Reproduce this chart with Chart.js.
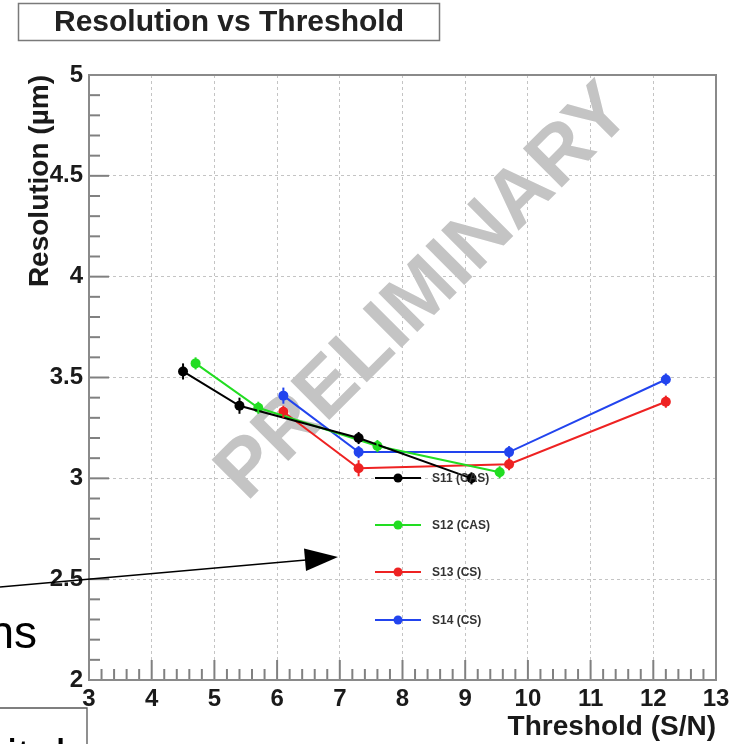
<!DOCTYPE html>
<html>
<head>
<meta charset="utf-8">
<script src="https://cdn.jsdelivr.net/npm/chart.js@4/dist/chart.umd.min.js"></script>
<style>
  html, body { margin: 0; padding: 0; background: #fff; }
</style>
</head>
<body>
<canvas id="res" width="736" height="744"></canvas>
<script>
// series
const seriesNames = ['S11 (CAS)', 'S12 (CAS)', 'S13 (CS)', 'S14 (CS)'];
const seriesColors = ['#000000', '#22dd22', '#ee2222', '#2244ee'];

const s11X = [4.5, 5.4, 7.3, 9.1];
const s11Y = [3.53, 3.36, 3.2, 3.0];
const s11Err = [0.04, 0.04, 0.03, 0.03];

const s12X = [4.7, 5.7, 7.6, 9.55];
const s12Y = [3.57, 3.35, 3.16, 3.03];
const s12Err = [0.03, 0.03, 0.03, 0.03];

const s13X = [6.1, 7.3, 9.7, 12.2];
const s13Y = [3.33, 3.05, 3.07, 3.38];
const s13Err = [0.03, 0.04, 0.03, 0.03];

const s14X = [6.1, 7.3, 9.7, 12.2];
const s14Y = [3.41, 3.13, 3.13, 3.49];
const s14Err = [0.04, 0.03, 0.03, 0.03];

const xTicks = [3, 4, 5, 6, 7, 8, 9, 10, 11, 12, 13];
const yTicks = [2, 2.5, 3, 3.5, 4, 4.5, 5];
const yTickLabels = ['2', '2.5', '3', '3.5', '4', '4.5', '5'];

const FONT = "'Liberation Sans', Arial, Helvetica, sans-serif";

function pts(xs, ys) {
  return xs.map((x, i) => ({ x: x, y: ys[i] }));
}

const allX = [s11X, s12X, s13X, s14X];
const allY = [s11Y, s12Y, s13Y, s14Y];
const allErr = [s11Err, s12Err, s13Err, s14Err];

const datasets = seriesNames.map((name, i) => ({
  label: name,
  data: pts(allX[i], allY[i]),
  errors: allErr[i],
  showLine: true,
  borderColor: seriesColors[i],
  backgroundColor: seriesColors[i],
  borderWidth: 2,
  pointRadius: 5,
  pointBorderWidth: 0,
  tension: 0
}));

// root style extras: watermark, error bars, legend, frame, inner ticks, slide bits
const rootStyle = {
  id: 'rootStyle',
  beforeDatasetsDraw(chart) {
    const ctx = chart.ctx;
    ctx.save();
    ctx.translate(425, 293);
    ctx.rotate(-45 * Math.PI / 180);
    ctx.font = 'bold 80px ' + FONT;
    ctx.fillStyle = '#c4c4c4';
    ctx.textAlign = 'center';
    ctx.textBaseline = 'middle';
    ctx.fillText('PRELIMINARY', 0, 0);
    ctx.restore();
  },
  afterDatasetsDraw(chart) {
    const ctx = chart.ctx;
    const xs = chart.scales.x, ys = chart.scales.y;
    ctx.save();
    // error bars
    chart.data.datasets.forEach(ds => {
      ctx.strokeStyle = ds.borderColor;
      ctx.lineWidth = 2;
      ds.data.forEach((p, j) => {
        const px = xs.getPixelForValue(p.x);
        ctx.beginPath();
        ctx.moveTo(px, ys.getPixelForValue(p.y - ds.errors[j]));
        ctx.lineTo(px, ys.getPixelForValue(p.y + ds.errors[j]));
        ctx.stroke();
      });
    });
    // legend
    const legendY = [478, 525, 572, 620];
    ctx.font = 'bold 12px ' + FONT;
    ctx.textBaseline = 'middle';
    ctx.textAlign = 'left';
    chart.data.datasets.forEach((ds, i) => {
      const y = legendY[i];
      ctx.strokeStyle = ds.borderColor;
      ctx.lineWidth = 2;
      ctx.beginPath();
      ctx.moveTo(375, y);
      ctx.lineTo(421, y);
      ctx.stroke();
      ctx.fillStyle = ds.borderColor;
      ctx.beginPath();
      ctx.arc(398, y, 4.5, 0, Math.PI * 2);
      ctx.fill();
      ctx.fillStyle = '#333';
      ctx.fillText(ds.label, 432, y + 1);
    });
    ctx.restore();
  },
  afterDraw(chart) {
    const ctx = chart.ctx;
    const a = chart.chartArea;
    const xs = chart.scales.x, ys = chart.scales.y;
    ctx.save();
    // inner ticks
    ctx.strokeStyle = '#808080';
    ctx.lineWidth = 2;
    for (let k = 0; k <= 50; k++) {
      const v = 3 + k * 0.2;
      const px = xs.getPixelForValue(v);
      const len = (k % 5 === 0) ? 20 : 11;
      ctx.beginPath();
      ctx.moveTo(px, a.bottom);
      ctx.lineTo(px, a.bottom - len);
      ctx.stroke();
    }
    for (let k = 0; k <= 30; k++) {
      const v = 2 + k * 0.1;
      const py = ys.getPixelForValue(v);
      const len = (k % 5 === 0) ? 20 : 11;
      ctx.beginPath();
      ctx.moveTo(a.left, py);
      ctx.lineTo(a.left + len, py);
      ctx.stroke();
    }
    // frame
    ctx.strokeStyle = '#8a8a8a';
    ctx.lineWidth = 2;
    ctx.strokeRect(a.left, a.top, a.right - a.left, a.bottom - a.top);

    // title box
    ctx.strokeStyle = '#7a7a7a';
    ctx.lineWidth = 1.5;
    ctx.strokeRect(18.5, 3.5, 421, 37);
    ctx.fillStyle = '#222';
    ctx.font = 'bold 30px ' + FONT;
    ctx.textAlign = 'center';
    ctx.textBaseline = 'middle';
    ctx.fillText('Resolution vs Threshold', 229, 23);

    // slide overlay: arrow, clipped text, box
    ctx.strokeStyle = '#000';
    ctx.fillStyle = '#000';
    ctx.lineWidth = 1.3;
    ctx.beginPath();
    ctx.moveTo(0, 587);
    ctx.lineTo(306, 560);
    ctx.stroke();
    ctx.beginPath();
    ctx.moveTo(338, 557);
    ctx.lineTo(304, 548.5);
    ctx.lineTo(306, 571);
    ctx.closePath();
    ctx.fill();

    ctx.font = '46px ' + FONT;
    ctx.textAlign = 'right';
    ctx.textBaseline = 'alphabetic';
    ctx.fillText('ns', 37, 648);

    ctx.strokeStyle = '#555';
    ctx.lineWidth = 1.3;
    ctx.beginPath();
    ctx.moveTo(0, 708);
    ctx.lineTo(87, 708);
    ctx.lineTo(87, 744);
    ctx.stroke();
    ctx.textAlign = 'left';
    ctx.fillText('ital', 7, 772);
    ctx.restore();
  }
};

new Chart(document.getElementById('res'), {
  type: 'scatter',
  data: { datasets: datasets },
  options: {
    responsive: false,
    animation: false,
    layout: { padding: { top: 75, right: 20, left: 0, bottom: 0 } },
    plugins: { legend: { display: false }, tooltip: { enabled: false } },
    scales: {
      x: {
        type: 'linear',
        min: xTicks[0],
        max: xTicks[xTicks.length - 1],
        afterFit(scale) { scale.height = 64; },
        afterBuildTicks(scale) { scale.ticks = xTicks.map(v => ({ value: v })); },
        grid: { color: '#c4c4c4', lineWidth: 1, drawTicks: false },
        border: { display: false, dash: [3, 3] },
        ticks: {
          padding: 5,
          color: '#1a1a1a',
          font: { family: FONT, size: 24, weight: 'bold' },
          maxRotation: 0,
          autoSkip: false
        },
        title: {
          display: true,
          text: 'Threshold (S/N)',
          align: 'end',
          color: '#1a1a1a',
          font: { family: FONT, size: 28, weight: 'bold' },
          padding: { top: 0, bottom: 0 }
        }
      },
      y: {
        type: 'linear',
        min: yTicks[0],
        max: yTicks[yTicks.length - 1],
        afterFit(scale) { scale.width = 89; },
        afterBuildTicks(scale) { scale.ticks = yTicks.map(v => ({ value: v })); },
        grid: { color: '#c4c4c4', lineWidth: 1, drawTicks: false },
        border: { display: false, dash: [3, 3] },
        ticks: {
          padding: 6,
          color: '#1a1a1a',
          font: { family: FONT, size: 24, weight: 'bold' },
          autoSkip: false,
          callback: (v) => yTickLabels[yTicks.indexOf(v)] ?? String(v)
        },
        title: {
          display: true,
          text: 'Resolution (µm)',
          align: 'end',
          color: '#1a1a1a',
          font: { family: FONT, size: 28, weight: 'bold' },
          padding: { top: 23, bottom: 0 }
        }
      }
    }
  },
  plugins: [rootStyle]
});
</script>
</body>
</html>
